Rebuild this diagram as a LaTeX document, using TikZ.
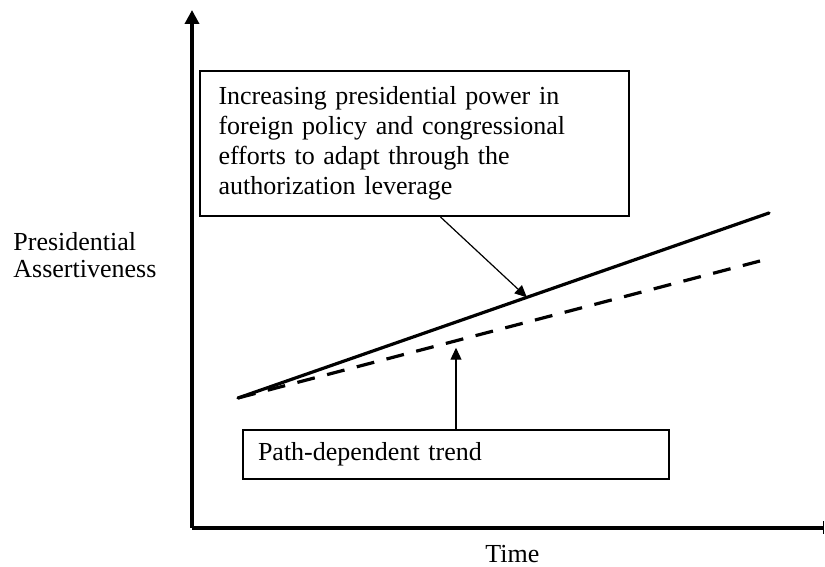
\documentclass[tikz,border=0pt]{standalone}
\usepackage{fontspec}
\setmainfont{Liberation Serif}
\usetikzlibrary{arrows.meta,calc}
\tikzset{
  axes/.style={line width=2pt, draw=black},
  lineS/.style={line width=1.6pt, draw=black},
  lineD/.style={line width=1.6pt, draw=black, dash pattern=on 9pt off 6.35pt},
  box/.style={draw=black, line width=1pt, align=left, font=\fontsize{13}{15}\selectfont},
  pointer/.style={-{Triangle[length=6pt,width=5.5pt]}, line width=0.6pt},
  lab/.style={font=\fontsize{13}{13.5}\selectfont, inner sep=0pt}
}
\begin{document}
\begin{tikzpicture}[x=0.5pt,y=0.5pt]
  \useasboundingbox (0,0) rectangle (825,567);
  % axes
  \coordinate (O) at (192,39);
  \draw[axes,-{Triangle[length=7pt,width=7pt]}] (O) -- (192,557);
  \draw[axes,-{Bar[width=6.5pt,line width=0.6pt]}] (O) -- (824,39);
  \node[lab,anchor=west,align=left] (ylab) at (13,312) {Presidential\\Assertiveness};
  \node[lab,anchor=base west] (xlab) at (485,4) {Time};

  % trends
  \coordinate (s0) at (238,169);
  \coordinate (s1) at (769,354);
  \coordinate (d1) at (760,306);
  \draw[lineS,line cap=round] (s0) -- (s1);
  \draw[lineD] (s0) -- (d1);

  % text boxes
  \node[box,anchor=north west,text width=196pt,inner xsep=9pt,minimum width=214.5pt,minimum height=72.5pt]
    (inc) at (199,497) {Increasing presidential power in\\foreign policy and congressional\\efforts to adapt through the\\authorization leverage};
  \node[box,anchor=north west,text width=198pt,inner xsep=7.5pt,minimum width=213pt,minimum height=24.5pt]
    (trend) at (242,138) {Path-dependent trend};

  % pointers
  \coordinate (up) at ($(s0)!0.544!(s1)$);
  \coordinate (dn) at ($(s0)!0.418!(d1)+(0,-7)$);
  \draw[pointer] ([xshift=13pt]inc.south) -- (up);
  \draw[pointer] (trend.north) -- (trend.north |- dn);
\end{tikzpicture}
\end{document}
